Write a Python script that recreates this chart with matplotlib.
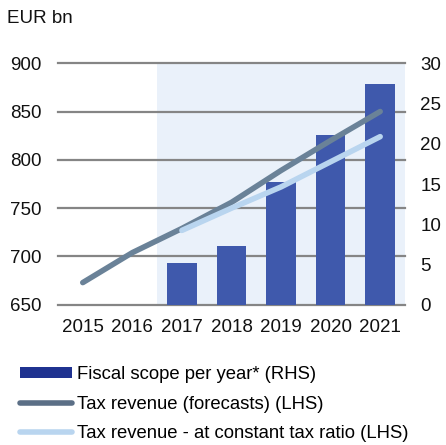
import matplotlib
matplotlib.use("Agg")
import matplotlib.pyplot as plt
from matplotlib.lines import Line2D
from matplotlib.patches import Patch

plt.rcParams['font.family'] = ['Liberation Sans', 'DejaVu Sans']

years = ['2015', '2016', '2017', '2018', '2019', '2020', '2021']
fiscal_scope = [None, None, 5.2, 7.3, 15.2, 21.1, 27.4]  # RHS, EUR bn
tax_forecast = [673, 704, 729, 756, 789, 820, 850]       # LHS
tax_const = [None, None, 727, 750, 772, 798, 824]        # LHS

BAR = '#3f59ac'
DARK = '#6a8298'
LIGHT = '#b9d5ef'
SHADE = '#eaf1fa'
GRID = '#858585'

fig = plt.figure(figsize=(4.46, 4.45), dpi=100)
ax_l = fig.add_axes([0.130, 0.315, 0.778, 0.543])
ax_r = ax_l.twinx()
ax_l.set_zorder(ax_r.get_zorder() + 1)
ax_l.patch.set_visible(False)

x = list(range(len(years)))

# shaded forecast period + bars on the right axis
ax_r.axvspan(1.5, 6.5, color=SHADE, lw=0, zorder=0)
bx = [i for i, v in zip(x, fiscal_scope) if v is not None]
bv = [v for v in fiscal_scope if v is not None]
ax_r.bar(bx, bv, width=0.6, color=BAR, zorder=3)
ax_r.set_ylim(0, 30)
ax_r.set_yticks(range(0, 31, 5))
# gridlines follow the left axis (every 50 = every 6 on the right scale)
ax_r.yaxis.remove_overlapping_locs = False
ax_r.set_yticks(range(0, 31, 6), minor=True)
ax_r.yaxis.grid(True, which='minor', color=GRID, lw=1.6, clip_on=False)
ax_r.yaxis.grid(False, which='major')
ax_r.set_axisbelow(True)

# lines on the left axis
ax_l.plot(x, tax_forecast, color=DARK, lw=4, solid_capstyle='round')
lx = [i for i, v in zip(x, tax_const) if v is not None]
lv = [v for v in tax_const if v is not None]
ax_l.plot(lx, lv, color=LIGHT, lw=4, solid_capstyle='round')
ax_l.set_ylim(650, 900)
ax_l.set_yticks(range(650, 901, 50))
ax_l.set_xlim(-0.5, 6.5)
ax_l.set_xticks(x)
ax_l.set_xticklabels(years)

for a in (ax_l, ax_r):
    for s in a.spines.values():
        s.set_visible(False)
    a.tick_params(which='both', length=0, labelsize=13.5, colors='#111111')
ax_l.tick_params(axis='y', pad=12)
ax_r.tick_params(axis='y', pad=11)
ax_l.tick_params(axis='x', pad=10)

fig.text(0.016, 0.958, 'EUR bn', fontsize=13.5, va='center', ha='left', color='#111111')

handles = [
    Patch(facecolor='#1f3290', edgecolor='none'),
    Line2D([], [], color='#5b6f86', lw=4, solid_capstyle='round'),
    Line2D([], [], color=LIGHT, lw=4, solid_capstyle='round'),
]
labels = ['Fiscal scope per year* (RHS)', 'Tax revenue (forecasts) (LHS)',
          'Tax revenue - at constant tax ratio (LHS)']
fig.legend(handles, labels, loc='upper left', bbox_to_anchor=(0.045, 0.177),
           frameon=False, fontsize=13.3, handlelength=2.8, handleheight=0.5,
           handletextpad=0.3, labelspacing=0.68, borderaxespad=0, borderpad=0)

fig.savefig('out.png', dpi=100)
